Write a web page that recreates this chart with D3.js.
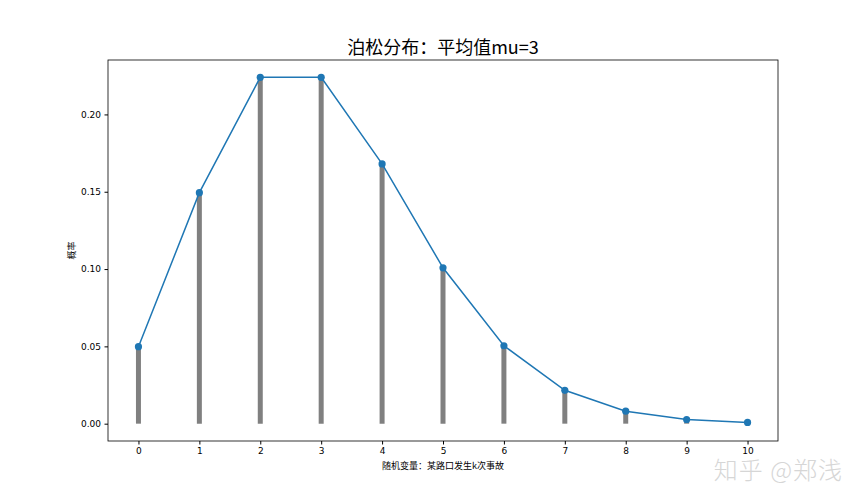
<!DOCTYPE html>
<html>
<head>
<meta charset="utf-8">
<script src="https://cdn.jsdelivr.net/npm/d3@7"></script>
<style>
  body { margin: 0; background: #fff; }
  svg { display: block; }
  .tick text { font-family: "DejaVu Sans", sans-serif; font-size: 9px; fill: #000; }
</style>
</head>
<body>
<svg id="chart" width="864" height="504"></svg>
<script>
// poisson probabilities, mu = 3
const ks = [0, 1, 2, 3, 4, 5, 6, 7, 8, 9, 10];
const probs = [0.0498, 0.1494, 0.2240, 0.2240, 0.1680, 0.1008, 0.0504, 0.0216, 0.0081, 0.0027, 0.0008];
const yTicks = [0.00, 0.05, 0.10, 0.15, 0.20];

const titleText = "泊松分布：平均值mu=3";
const xLabel = "随机变量：某路口发生k次事故";
const yLabel = "概率";

const svg = d3.select("#chart");
const margin = {top: 60, right: 86, bottom: 63, left: 108};
const width = 864 - margin.left - margin.right;
const height = 504 - margin.top - margin.bottom;
const g = svg.append("g").attr("transform", "translate(" + margin.left + "," + margin.top + ")");

const x = d3.scaleLinear().domain([-0.5, 10.5]).range([0, width]);
const y = d3.scaleLinear().domain([-0.0112, 0.2352]).range([height, 0]);

const data = ks.map(function(k, i) { return {k: k, p: probs[i]}; });

// grey stems
g.append("g")
    .selectAll("line")
    .data(data)
    .enter().append("line")
    .attr("x1", function(d) { return x(d.k); })
    .attr("x2", function(d) { return x(d.k); })
    .attr("y1", y(0))
    .attr("y2", function(d) { return y(d.p); })
    .attr("stroke", "#808080")
    .attr("stroke-width", 5);

// line + markers
const line = d3.line()
    .x(function(d) { return x(d.k); })
    .y(function(d) { return y(d.p); });

g.append("path")
    .datum(data)
    .attr("d", line)
    .attr("fill", "none")
    .attr("stroke", "#1f77b4")
    .attr("stroke-width", 1.5);

g.append("g")
    .selectAll("circle")
    .data(data)
    .enter().append("circle")
    .attr("cx", function(d) { return x(d.k); })
    .attr("cy", function(d) { return y(d.p); })
    .attr("r", 3.6)
    .attr("fill", "#1f77b4");

// axes
const xAxis = g.append("g")
    .attr("transform", "translate(0," + height + ")")
    .call(d3.axisBottom(x).tickValues(ks).tickSize(3.5).tickPadding(3.5).tickFormat(d3.format("d")));
xAxis.select(".domain").remove();

const yAxis = g.append("g")
    .call(d3.axisLeft(y).tickValues(yTicks).tickSize(3.5).tickPadding(3.5).tickFormat(d3.format(".2f")));
yAxis.select(".domain").remove();

// frame
g.append("rect")
    .attr("width", width)
    .attr("height", height)
    .attr("fill", "none")
    .attr("stroke", "#000")
    .attr("stroke-width", 0.8);

// labels
svg.append("text")
    .attr("x", margin.left + width / 2)
    .attr("y", 54)
    .attr("text-anchor", "middle")
    .attr("font-family", "'Noto Sans CJK SC', sans-serif")
    .attr("font-size", 18)
    .text(titleText);

svg.append("text")
    .attr("x", margin.left + width / 2)
    .attr("y", 469)
    .attr("text-anchor", "middle")
    .attr("font-family", "'Noto Sans CJK SC', sans-serif")
    .attr("font-size", 9)
    .text(xLabel);

svg.append("text")
    .attr("transform", "translate(75," + (margin.top + height / 2) + ") rotate(-90)")
    .attr("text-anchor", "middle")
    .attr("font-family", "'Noto Sans CJK SC', sans-serif")
    .attr("font-size", 9)
    .text(yLabel);

// watermark
svg.append("text")
    .attr("x", 843)
    .attr("y", 479)
    .attr("text-anchor", "end")
    .attr("font-family", "'Noto Sans CJK SC', sans-serif")
    .attr("font-weight", 300)
    .attr("font-size", 24)
    .attr("letter-spacing", 1)
    .attr("fill", "#d6d6d6")
    .text("知乎 @郑浅");
</script>
</body>
</html>
